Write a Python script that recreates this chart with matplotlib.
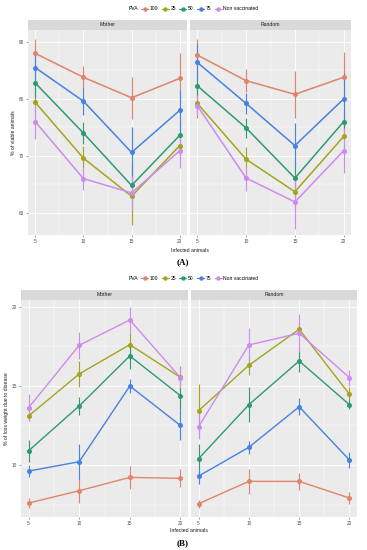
import matplotlib
matplotlib.use("Agg")
import matplotlib.pyplot as plt
from matplotlib.ticker import MultipleLocator
from matplotlib.lines import Line2D

plt.rcParams['font.family'] = ['Liberation Sans', 'DejaVu Sans']

infected = [5, 10, 15, 20]
groups = ["100", "25", "50", "75", "Non vaccinated"]
colors = {"100": "#E0846C", "25": "#A3A51E", "50": "#2E9A74", "75": "#4682E0", "Non vaccinated": "#CE8AEE"}
facets = ["Mother", "Random"]

# (A) % of viable animals
viable = {
    "Mother": {
        "100": [88.0, 83.8, 80.2, 83.6],
        "25": [79.4, 69.6, 62.9, 71.8],
        "50": [82.8, 74.0, 64.8, 73.6],
        "75": [85.5, 79.6, 70.6, 78.0],
        "Non vaccinated": [76.0, 66.0, 63.5, 70.9],
    },
    "Random": {
        "100": [87.7, 83.2, 80.8, 83.8],
        "25": [79.2, 69.4, 63.7, 73.4],
        "50": [82.3, 74.9, 66.1, 76.0],
        "75": [86.4, 79.2, 71.8, 80.0],
        "Non vaccinated": [78.8, 66.1, 61.9, 70.9],
    },
}
viable_err = {
    "Mother": {
        "100": [2.6, 2.0, 3.7, 4.4],
        "25": [2.8, 2.1, 5.0, 2.4],
        "50": [2.6, 2.0, 4.0, 2.4],
        "75": [2.6, 2.4, 4.4, 3.6],
        "Non vaccinated": [3.0, 2.0, 3.0, 3.1],
    },
    "Random": {
        "100": [2.8, 2.0, 4.1, 4.5],
        "25": [2.6, 2.2, 3.0, 2.2],
        "50": [2.6, 1.7, 3.0, 1.5],
        "75": [3.3, 1.8, 3.9, 4.5],
        "Non vaccinated": [1.8, 2.2, 4.8, 4.0],
    },
}

# (B) % of loss weight due to disease
loss = {
    "Mother": {
        "100": [7.60, 8.38, 9.22, 9.16],
        "25": [13.10, 15.75, 17.60, 15.54],
        "50": [10.90, 13.73, 16.89, 14.38],
        "75": [9.62, 10.21, 14.99, 12.50],
        "Non vaccinated": [13.62, 17.56, 19.16, 15.52],
    },
    "Random": {
        "100": [7.56, 8.97, 8.97, 7.92],
        "25": [13.43, 16.30, 18.57, 14.47],
        "50": [10.40, 13.81, 16.57, 13.81],
        "75": [9.30, 11.12, 13.68, 10.32],
        "Non vaccinated": [12.42, 17.58, 18.32, 15.52],
    },
}
loss_err = {
    "Mother": {
        "100": [0.30, 0.80, 0.74, 0.57],
        "25": [0.30, 0.80, 0.74, 0.70],
        "50": [0.70, 0.58, 0.80, 0.90],
        "75": [0.37, 1.10, 0.47, 0.95],
        "Non vaccinated": [0.87, 0.84, 0.80, 0.67],
    },
    "Random": {
        "100": [0.26, 0.80, 0.55, 0.40],
        "25": [1.66, 0.60, 0.45, 0.47],
        "50": [0.95, 1.10, 0.68, 0.30],
        "75": [0.50, 0.40, 0.53, 0.50],
        "Non vaccinated": [0.80, 1.05, 1.20, 0.50],
    },
}

W, H = 367, 550
fig = plt.figure(figsize=(W / 100, H / 100), dpi=100)
fig.patch.set_facecolor("white")

FS = 3.4


def px_axes(x0, y0, x1, y1):
    return fig.add_axes([x0 / W, 1 - y1 / H, (x1 - x0) / W, (y1 - y0) / H])


def style(ax, ylim, ymaj, show_y):
    ax.set_facecolor("#EBEBEB")
    ax.set_xlim(4.25, 20.75)
    ax.set_ylim(*ylim)
    ax.xaxis.set_major_locator(MultipleLocator(5))
    ax.xaxis.set_minor_locator(MultipleLocator(2.5))
    ax.yaxis.set_major_locator(MultipleLocator(ymaj))
    ax.yaxis.set_minor_locator(MultipleLocator(ymaj / 2))
    ax.grid(which="major", color="white", lw=0.6)
    ax.grid(which="minor", color="white", lw=0.3)
    ax.set_axisbelow(True)
    for s in ax.spines.values():
        s.set_visible(False)
    ax.tick_params(which="minor", length=0)
    ax.tick_params(which="major", length=1.5, width=0.4, color="#555555",
                   labelsize=FS, labelcolor="#4D4D4D", pad=1.2)
    if not show_y:
        ax.tick_params(axis="y", which="both", left=False, labelleft=False)


def strip(x0, x1, y0, y1, label):
    sa = px_axes(x0, y0, x1, y1)
    sa.set_facecolor("#D9D9D9")
    sa.set_xticks([]); sa.set_yticks([])
    for s in sa.spines.values():
        s.set_visible(False)
    sa.text(0.5, 0.5, label, ha="center", va="center", fontsize=FS + 0.3, color="#1A1A1A",
            transform=sa.transAxes)


def draw_panel(ax, data, err, lw):
    for g in groups:
        ax.errorbar(infected, data[g], yerr=err[g], color=colors[g], lw=lw, elinewidth=0.8,
                    marker="o", ms=2.6, capsize=0, zorder=3)


def legend(y):
    handles = [Line2D([0], [0], color=colors[g], lw=0.8, marker="o", ms=2.2) for g in groups]
    fig.legend(handles, groups, loc="center", bbox_to_anchor=(186 / W, 1 - y / H), ncol=5,
               frameon=False, fontsize=FS, title="PVA", title_fontsize=FS + 0.4,
               handlelength=1.4, handletextpad=0.3, columnspacing=0.6, borderpad=0)
    lg = fig.legends[-1]
    lg._legend_box.align = "left"
    # put title inline
    lg._legend_box._children  # noqa


def add_inline_legend(y):
    handles = [Line2D([0], [0], color=colors[g], lw=0.8, marker="o", ms=2.2) for g in groups]
    labels = groups
    hs = [Line2D([], [], alpha=0)] + handles
    ls = ["PVA"] + labels
    fig.legend(hs, ls, loc="center", bbox_to_anchor=(189 / W, 1 - y / H), ncol=6,
               frameon=False, fontsize=FS + 0.2, handlelength=1.4, handletextpad=0.3,
               columnspacing=0.7, borderpad=0)


# ---- (A) ----
add_inline_legend(9)
top_cols = [(28, 187), (190, 351)]
for i, f in enumerate(facets):
    x0, x1 = top_cols[i]
    strip(x0, x1, 20, 30, f)
    ax = px_axes(x0, 30, x1, 235)
    style(ax, (56.1, 92.1), 10, i == 0)
    draw_panel(ax, viable[f], viable_err[f], 1.1)
    if i == 0:
        ax.set_ylabel("% of viable animals", fontsize=FS + 0.3, color="#1A1A1A", labelpad=2)
fig.text(190 / W, 1 - 250 / H, "Infected animals", ha="center", va="center", fontsize=FS + 0.3,
         color="#1A1A1A")
fig.text(183 / W, 1 - 262 / H, "(A)", ha="center", va="center", fontsize=6.5,
         family=["Liberation Serif", "DejaVu Serif"], weight="bold")

# ---- (B) ----
add_inline_legend(278)
bot_cols = [(21, 188), (191, 357)]
for i, f in enumerate(facets):
    x0, x1 = bot_cols[i]
    strip(x0, x1, 290, 300, f)
    ax = px_axes(x0, 300, x1, 517)
    style(ax, (6.72, 20.42), 5, i == 0)
    draw_panel(ax, loss[f], loss_err[f], 1.0)
    if i == 0:
        ax.set_ylabel("% of loss weight due to disease", fontsize=FS + 0.3, color="#1A1A1A",
                      labelpad=2)
fig.text(189 / W, 1 - 530 / H, "Infected animals", ha="center", va="center", fontsize=FS + 0.3,
         color="#1A1A1A")
fig.text(183 / W, 1 - 543 / H, "(B)", ha="center", va="center", fontsize=6.5,
         family=["Liberation Serif", "DejaVu Serif"], weight="bold")

fig.savefig("out.png", dpi=100, facecolor="white")
